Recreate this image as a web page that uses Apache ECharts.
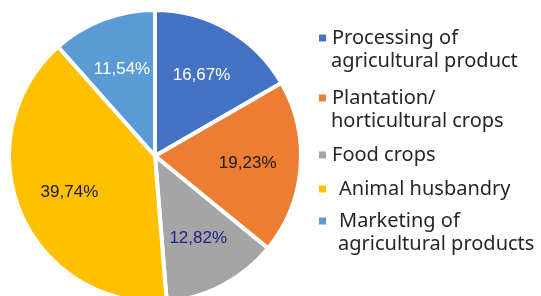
<!DOCTYPE html>
<html>
<head>
<meta charset="utf-8">
<style>
  html, body { margin: 0; padding: 0; background: #fff; }
  #main { width: 541px; height: 296px; }
</style>
<script src="https://cdn.jsdelivr.net/npm/echarts@6/dist/echarts.min.js"></script>
</head>
<body>
<div id="main"></div>
<script>
var categories = ['Processing of\nagricultural product', 'Plantation/\nhorticultural crops', 'Food crops', 'Animal husbandry', 'Marketing of\nagricultural products'];
var shares = [16.67, 19.23, 12.82, 39.74, 11.54];
var colors = ['#4472C4', '#ED7D31', '#A5A5A5', '#FFC000', '#5B9BD5'];
var labelColors = ['#ffffff', '#1a1a1a', '#22228a', '#1a1a1a', '#ffffff'];

(function(){
  var myChart = echarts.init(document.getElementById('main'));
  var data = categories.map(function (name, i) {
    return { name: name, value: shares[i], itemStyle: { color: colors[i] } };
  });
  // label-only copy, so labels sit further out than the default "inside"
  var labelData = categories.map(function (name, i) {
    return {
      name: name, value: shares[i],
      label: { color: labelColors[i] }
    };
  });
  // one legend per item so each block can be placed where the original has it
  var iconY = [38, 98, 155, 189, 221];
  var textPad = [0, 0, 0, 7, 7];
  var lineH = 24;
  var legendFont = { fontFamily: 'Noto Sans', fontSize: 20, color: '#262626', lineHeight: lineH };
  var legends = [];
  var extraLines = [];
  categories.forEach(function (name, i) {
    var lines = name.split('\n');
    legends.push({
      data: [name],
      left: 312,
      top: iconY[i] - 5 - lineH / 2,
      icon: 'rect',
      itemWidth: 9,
      itemHeight: 9,
      selectedMode: false,
      formatter: function () { return lines[0]; },
      textStyle: Object.assign({ padding: [0, 0, 0, textPad[i]] }, legendFont)
    });
    if (lines[1]) {
      // second line of the label, under the first one
      extraLines.push({
        type: 'text',
        left: 331 + textPad[i],
        top: iconY[i] + 23 - lineH / 2,
        style: {
          text: lines[1], fill: legendFont.color, lineHeight: lineH,
          font: legendFont.fontSize + 'px "' + legendFont.fontFamily + '"'
        }
      });
    }
  });
  var option = {
    animation: false,
    color: colors,
    legend: legends,
    graphic: extraLines,
    series: [
      {
        type: 'pie',
        center: [155, 156],
        radius: [0, 146],
        startAngle: 90,
        clockwise: true,
        label: { show: false },
        labelLine: { show: false },
        itemStyle: { borderColor: '#fff', borderWidth: 4 },
        data: data
      },
      {
        type: 'pie',
        center: [155, 156],
        radius: [0, 180],
        startAngle: 90,
        clockwise: true,
        silent: true,
        legendHoverLink: false,
        itemStyle: { color: 'rgba(0,0,0,0)' },
        label: {
          show: true,
          position: 'inside',
          fontFamily: 'Liberation Sans',
          fontSize: 17,
          formatter: function (p) {
            return p.value.toFixed(2).replace('.', ',') + '%';
          }
        },
        labelLine: { show: false },
        data: labelData
      }
    ]
  };
  myChart.setOption(option);
  window.addEventListener("resize", function() {
    myChart.resize();
  });
})();
</script>
</body>
</html>
